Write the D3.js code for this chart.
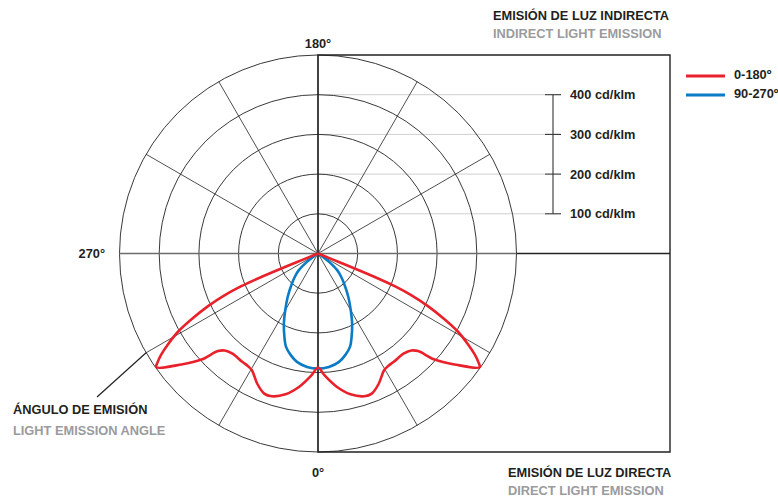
<!DOCTYPE html>
<html>
<head>
<meta charset="utf-8">
<script src="https://cdn.jsdelivr.net/npm/d3@7"></script>
<style>
  html, body { margin: 0; padding: 0; background: #fff; }
  svg { display: block; }
  text { font-family: "Liberation Sans", Arial, Helvetica, sans-serif; font-weight: bold; }
</style>
</head>
<body>
<svg id="chart" width="778" height="498"></svg>
<script>
// ---- data (gamma angle in degrees, signed: negative = left half; intensity in cd/klm) ----
const redAngles = [-90,-68.3,-67.9,-67.5,-66.9,-65.9,-64.4,-62.5,-60.8,-58.8,-57.2,-55.8,-54.9,-50.9,-47.7,-45.7,-43.9,-40.7,-35,-32,-29.5,-25,-21,-18,-13,-8,-3,0,3,8,13,18,21,25,29.5,32,35,40.7,43.9,45.7,47.7,50.9,54.9,55.8,57.2,58.8,60.8,62.5,64.4,65.9,66.9,67.5,67.9,68.3,90];
const redValues = [0,0,60,150,210,257,307,360,404,442,470,489,498,443,397,352,339,332,333,334,338,362,378,378,364,339,307,287,307,339,364,378,378,362,338,334,333,332,339,352,397,443,498,489,470,442,404,360,307,257,210,150,60,0,0];
const blueAngles = [-90,-70,-60,-56,-53,-49,-45,-41,-35,-30,-26,-22,-19,-15,-11,-5.5,0,5.5,11,15,19,22,26,30,35,41,45,49,53,56,60,70,90];
const blueValues = [0,0,3,14,35,64,82,100,133,165,196,226,248,265,278,287,290,287,278,265,248,226,196,165,133,100,82,64,35,14,3,0,0];
const ringValues = [100,200,300,400,500];
const scaleTicks = [100,200,300,400];
const spokeAngles = [30,60,120,150];
const axisLabels = [{deg:180,text:"180°"},{deg:0,text:"0°"},{deg:-90,text:"270°"}];
const legendItems = [{label:"0-180º",color:"#e8212b"},{label:"90-270º",color:"#0a7bc4"}];

// ---- layout ----
const svg = d3.select("#chart");
const cx = 318, cy = 253.5, R = 198.5;
const rScale = d3.scaleLinear().domain([0,500]).range([0,R]);
const aScale = d3.scaleLinear().domain([-180,180]).range([2*Math.PI,0]);
const px = (deg,v) => cx + rScale(v)*Math.sin(aScale(deg));
const py = (deg,v) => cy - rScale(v)*Math.cos(aScale(deg));

const g = svg.append("g");

// gray reference lines for scale
g.selectAll("line.ref").data(scaleTicks).join("line")
  .attr("x1", cx).attr("x2", 545)
  .attr("y1", d => cy - rScale(d)).attr("y2", d => cy - rScale(d))
  .attr("stroke", "#cfcfcf").attr("stroke-width", 1);

// rings
g.selectAll("circle.ring").data(ringValues).join("circle")
  .attr("cx", cx).attr("cy", cy).attr("r", d => rScale(d))
  .attr("fill", "none").attr("stroke", "#222").attr("stroke-width", 0.9);

// spokes (full diameters)
g.selectAll("line.spoke").data(spokeAngles).join("line")
  .attr("x1", d => px(d,500)).attr("y1", d => py(d,500))
  .attr("x2", d => px(d+180,500)).attr("y2", d => py(d+180,500))
  .attr("stroke", "#222").attr("stroke-width", 0.8);

// horizontal diameter (gray)
g.append("line").attr("x1", px(-90,500)).attr("y1", cy).attr("x2", px(90,500)).attr("y2", cy)
  .attr("stroke", "#6d6d6d").attr("stroke-width", 1.3);

// box and vertical axis
g.append("path")
  .attr("d", `M${cx},${cy-R} L670,${cy-R} L670,${cy+R} L${cx},${cy+R} Z`)
  .attr("fill", "none").attr("stroke", "#222").attr("stroke-width", 1.4);
g.append("line").attr("x1", px(90,500)).attr("x2", 670).attr("y1", cy).attr("y2", cy)
  .attr("stroke", "#222").attr("stroke-width", 1.4);
g.append("line").attr("x1", cx).attr("x2", cx).attr("y1", cy-R).attr("y2", cy+R)
  .attr("stroke", "#222").attr("stroke-width", 1);

// scale bar
const sx = 553;
g.append("line").attr("x1", sx).attr("x2", sx)
  .attr("y1", cy - rScale(d3.max(scaleTicks))).attr("y2", cy - rScale(d3.min(scaleTicks)))
  .attr("stroke", "#333").attr("stroke-width", 1.1);
g.selectAll("line.tick").data(scaleTicks).join("line")
  .attr("x1", 545).attr("x2", 561)
  .attr("y1", d => cy - rScale(d)).attr("y2", d => cy - rScale(d))
  .attr("stroke", "#333").attr("stroke-width", 1.1);
g.selectAll("text.tick").data(scaleTicks).join("text")
  .attr("x", 570).attr("y", d => cy - rScale(d) + 4.5)
  .attr("font-size", 12.8).attr("fill", "#231f20")
  .text(d => d + " cd/klm");

// curves
const radial = (angles, values) => d3.lineRadial()
  .angle((d,i) => aScale(angles[i]))
  .radius((d,i) => rScale(values[i]))
  .curve(d3.curveCatmullRom.alpha(0.5))(angles);

const plot = g.append("g").attr("transform", `translate(${cx},${cy})`);
plot.append("path").attr("d", radial(blueAngles, blueValues))
  .attr("fill", "none").attr("stroke", legendItems[1].color).attr("stroke-width", 2.6)
  .attr("stroke-linejoin", "round");
plot.append("path").attr("d", radial(redAngles, redValues))
  .attr("fill", "none").attr("stroke", legendItems[0].color).attr("stroke-width", 2.6)
  .attr("stroke-linejoin", "round");

// axis angle labels
g.selectAll("text.ang").data(axisLabels).join("text")
  .attr("font-size", 12.8).attr("fill", "#231f20")
  .attr("text-anchor", d => d.deg === -90 ? "end" : "middle")
  .attr("x", d => d.deg === -90 ? 105 : cx)
  .attr("y", d => d.deg === 180 ? 48.3 : d.deg === 0 ? 476.7 : 257.5)
  .text(d => d.text);

// pointer line
g.append("line").attr("x1", px(-60,500)).attr("y1", py(-60,500)).attr("x2", 97).attr("y2", 397)
  .attr("stroke", "#222").attr("stroke-width", 1.2);

// titles
const titles = [
  {x:493, y:19.5, text:"EMISIÓN DE LUZ INDIRECTA", c:"#231f20"},
  {x:493, y:37.7, text:"INDIRECT LIGHT EMISSION", c:"#9a9b9d"},
  {x:13, y:414, text:"ÁNGULO DE EMISIÓN", c:"#231f20"},
  {x:13, y:435, text:"LIGHT EMISSION ANGLE", c:"#9a9b9d"},
  {x:508, y:476.7, text:"EMISIÓN DE LUZ DIRECTA", c:"#231f20"},
  {x:508, y:495, text:"DIRECT LIGHT EMISSION", c:"#9a9b9d"}
];
g.selectAll("text.title").data(titles).join("text")
  .attr("x", d => d.x).attr("y", d => d.y)
  .attr("font-size", 12.8).attr("fill", d => d.c)
  .text(d => d.text);

// legend
const leg = g.selectAll("g.leg").data(legendItems).join("g")
  .attr("transform", (d,i) => `translate(686,${76 + i*19})`);
leg.append("line").attr("x1", 0).attr("x2", 39).attr("y1", 0).attr("y2", 0)
  .attr("stroke", d => d.color).attr("stroke-width", 2.8);
leg.append("text").attr("x", 48).attr("y", 2.5).attr("font-size", 12.8).attr("fill", "#231f20")
  .text(d => d.label);
</script>
</body>
</html>
